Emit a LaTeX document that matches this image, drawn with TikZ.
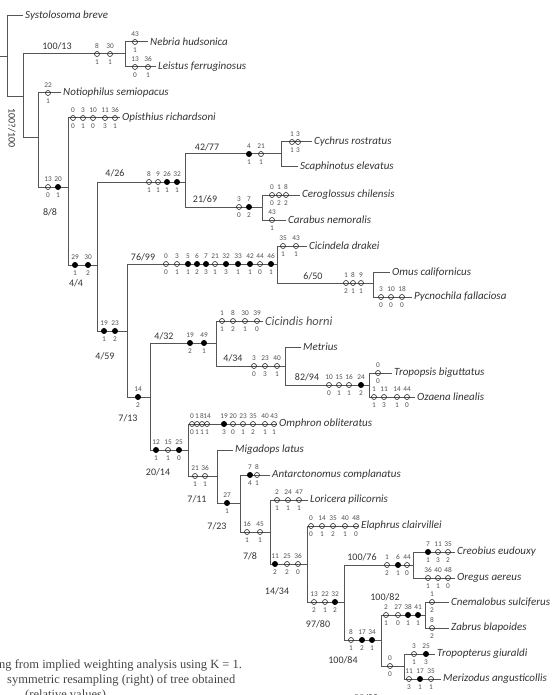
\documentclass[tikz,border=0pt]{standalone}
\usepackage{fontspec}
\setmainfont{Carlito}
\newfontfamily\capfont{Liberation Serif}
\usetikzlibrary{positioning}

\definecolor{linegray}{HTML}{555555}
\definecolor{txtgray}{HTML}{333333}
\definecolor{numgray}{HTML}{505050}
\definecolor{capgray}{HTML}{444444}

\newcommand{\apos}[2]{%
  \foreach \cx/\ct/\cb/\cs in {#2}
    {\node[\cs] (c#1-\cx) at (\cx,#1) {};
     \node[num] (t#1-\cx) at (\cx,#1-7.5) {\ct};
     \node[num] (b#1-\cx) at (\cx,#1+7.8) {\cb};}}

\begin{document}
\begin{tikzpicture}[x=1pt, y=-1pt,
  branch/.style={draw=linegray, line width=1pt},
  taxon/.style={anchor=west, inner xsep=2pt, inner ysep=0pt, text=txtgray, font=\fontsize{11}{13}\selectfont\itshape},
  support/.style={inner sep=0pt, text=txtgray, font=\fontsize{10}{12}\selectfont},
  num/.style={inner sep=0pt, text=numgray, font=\fontsize{7.3}{8}\selectfont},
  homo/.style={circle, draw=black!85, line width=0.6pt, minimum size=5pt, inner sep=0pt},
  syna/.style={circle, fill=black, minimum size=6pt, inner sep=0pt},
  capline/.style={anchor=base west, inner sep=0pt, text=capgray, font=\capfont\fontsize{12.5}{15}\selectfont}]
\useasboundingbox (0,0) rectangle (558,695);
\clip (0,0) rectangle (558,695);

\node[taxon] (sys) at (23,16) {Systolosoma breve};
\node[taxon] (neb) at (148,42) {Nebria hudsonica};
\node[taxon] (lei) at (156,67) {Leistus ferruginosus};
\node[taxon] (not) at (61,93) {Notiophilus semiopacus};
\node[taxon] (opi) at (120,118) {Opisthius richardsoni};
\node[taxon] (cyc) at (312,142) {Cychrus rostratus};
\node[taxon] (sca) at (298,167) {Scaphinotus elevatus};
\node[taxon] (cer) at (300,195) {Ceroglossus chilensis};
\node[taxon] (cbs) at (286,220) {Carabus nemoralis};
\node[taxon] (cdr) at (307,246) {Cicindela drakei};
\node[taxon] (omu) at (390,272) {Omus californicus};
\node[taxon] (pyc) at (412,297) {Pycnochila fallaciosa};
\node[taxon, font=\fontsize{12.5}{14}\selectfont\itshape, text=numgray] (cdh) at (263,321) {Cicindis horni};
\node[taxon] (met) at (301,347) {Metrius};
\node[taxon] (tro) at (392,373) {Tropopsis biguttatus};
\node[taxon] (oza) at (415,397) {Ozaena linealis};
\node[taxon] (omp) at (277,424) {Omphron obliteratus};
\node[taxon] (mig) at (233,450) {Migadops latus};
\node[taxon] (ant) at (270,475) {Antarctonomus complanatus};
\node[taxon] (lor) at (308,500) {Loricera pilicornis};
\node[taxon] (ela) at (359,526) {Elaphrus clairvillei};
\node[taxon] (cre) at (455,552) {Creobius eudouxy};
\node[taxon] (ore) at (455,578) {Oregus aereus};
\node[taxon] (cne) at (449,602) {Cnemalobus sulciferus};
\node[taxon] (zab) at (449,628) {Zabrus blapoides};
\node[taxon] (trp) at (435,654) {Tropopterus giuraldi};
\node[taxon] (mer) at (441,679) {Merizodus angusticollis};

\coordinate (base) at (0,57);
\coordinate (root) at (7,57);
\coordinate (inA) at (23,97);
\coordinate (nebA) at (125,54);
\coordinate (inB) at (38,138);
\coordinate (inC) at (68,187);
\coordinate (inD) at (97,265);
\coordinate (carA) at (185,182);
\coordinate (cycA) at (281,154);
\coordinate (cerA) at (262,207);
\coordinate (inE) at (127,331);
\coordinate (cicA) at (277,264);
\coordinate (omuA) at (373,283);
\coordinate (inF) at (150,397);
\coordinate (cndA) at (216,343);
\coordinate (metA) at (285,366);
\coordinate (ozaA) at (369,385);
\coordinate (inG) at (188,450);
\coordinate (inH) at (217,476);
\coordinate (inI) at (240,503);
\coordinate (inJ) at (270,532);
\coordinate (inK) at (307,564);
\coordinate (inL) at (344,602);
\coordinate (broA) at (413,565);
\coordinate (inM) at (381,640);
\coordinate (cneA) at (425,615);
\coordinate (merA) at (404,666);

\draw[branch] (base) -- (root);
\draw[branch] (root) |- (sys.west);
\draw[branch] (root) |- (inA);
\draw[branch] (inA) |- (nebA);
\draw[branch] (nebA) |- (neb.west);
\draw[branch] (nebA) |- (lei.west);
\draw[branch] (inA) |- (inB);
\draw[branch] (inB) |- (not.west);
\draw[branch] (inB) |- (inC);
\draw[branch] (inC) |- (opi.west);
\draw[branch] (inC) |- (inD);
\draw[branch] (inD) |- (carA);
\draw[branch] (inD) |- (inE);
\draw[branch] (carA) |- (cycA);
\draw[branch] (carA) |- (cerA);
\draw[branch] (cycA) |- (cyc.west);
\draw[branch] (cycA) |- (sca.west);
\draw[branch] (cerA) |- (cer.west);
\draw[branch] (cerA) |- (cbs.west);
\draw[branch] (inE) |- (cicA);
\draw[branch] (inE) |- (inF);
\draw[branch] (cicA) |- (cdr.west);
\draw[branch] (cicA) |- (omuA);
\draw[branch] (omuA) |- (omu.west);
\draw[branch] (omuA) |- (pyc.west);
\draw[branch] (inF) |- (cndA);
\draw[branch] (inF) |- (inG);
\draw[branch] (cndA) |- (cdh.west);
\draw[branch] (cndA) |- (metA);
\draw[branch] (metA) |- (met.west);
\draw[branch] (metA) |- (ozaA);
\draw[branch] (ozaA) |- (tro.west);
\draw[branch] (ozaA) |- (oza.west);
\draw[branch] (inG) |- (omp.west);
\draw[branch] (inG) |- (inH);
\draw[branch] (inH) |- (mig.west);
\draw[branch] (inH) |- (inI);
\draw[branch] (inI) |- (ant.west);
\draw[branch] (inI) |- (inJ);
\draw[branch] (inJ) |- (lor.west);
\draw[branch] (inJ) |- (inK);
\draw[branch] (inK) |- (ela.west);
\draw[branch] (inK) |- (inL);
\draw[branch] (inL) |- (broA);
\draw[branch] (inL) |- (inM);
\draw[branch] (broA) |- (cre.west);
\draw[branch] (broA) |- (ore.west);
\draw[branch] (inM) |- (cneA);
\draw[branch] (inM) |- (merA);
\draw[branch] (cneA) |- (cne.west);
\draw[branch] (cneA) |- (zab.west);
\draw[branch] (merA) |- (trp.west);
\draw[branch] (merA) |- (mer.west);

\apos{54}{97/8/1/homo, 110/30/1/homo}
\apos{42}{135/43/1/homo}
\apos{67}{135/13/0/homo, 148/36/1/homo}
\apos{93}{48/22/1/homo}
\apos{187}{48/13/0/homo, 58/20/1/syna}
\apos{118}{73/0/0/homo, 83/3/1/homo, 93/10/0/homo, 105/11/3/homo, 115/36/1/homo}
\apos{265}{75/29/1/syna, 88/30/2/syna}
\apos{182}{149/8/1/homo, 158/9/1/homo, 167/26/1/syna, 177/32/1/syna}
\apos{154}{249/4/1/syna, 261/21/1/homo}
\apos{142}{292/1/1/homo, 298/3/3/homo}
\apos{207}{239/3/0/homo, 249/7/2/syna}
\apos{195}{272/0/0/homo, 279/1/2/homo, 286/8/2/homo}
\apos{220}{272/43/1/homo}
\apos{331}{104/19/1/syna, 115/23/2/syna}
\apos{264}{166/0/0/homo, 177/3/1/homo, 188/5/1/syna, 197/6/2/syna, 206/7/3/syna, 215/21/1/homo, 226/32/3/syna, 238/33/1/syna, 250/42/1/syna, 260/44/0/homo, 271/46/1/syna}
\apos{246}{283/35/1/homo, 296/43/1/homo}
\apos{283}{346/1/2/homo, 353/8/1/homo, 361/9/1/homo}
\apos{297}{381/3/0/homo, 391/10/0/homo, 402/18/0/homo}
\apos{397}{138/14/2/syna}
\apos{343}{190/19/2/syna, 204/49/1/syna}
\apos{321}{222/1/1/homo, 233/8/2/homo, 245/30/1/homo, 257/39/0/homo}
\apos{366}{254/3/0/homo, 265/23/3/homo, 277/40/1/homo}
\apos{385}{329/10/0/homo, 339/15/1/homo, 349/16/1/homo, 361/24/2/syna}
\apos{373}{378/0/0/homo}
\apos{397}{374/1/1/homo, 384/11/3/homo, 397/14/1/homo, 407/44/0/homo}
\apos{450}{156/12/1/syna, 168/15/1/homo, 179/25/0/syna}
\apos{424}{192/0/0/homo, 197/1/1/homo, 202/8/1/homo, 207/14/1/homo, 224/19/3/syna, 233/20/0/homo, 243/23/1/homo, 253/35/2/homo, 265/40/1/homo, 274/43/1/homo}
\apos{476}{195/21/1/homo, 205/36/1/homo}
\apos{503}{227/27/1/syna}
\apos{475}{250/7/4/syna, 257/8/1/homo}
\apos{532}{247/16/1/homo, 260/45/1/homo}
\apos{500}{277/2/1/homo, 288/24/1/homo, 299/47/1/homo}
\apos{564}{275/11/2/syna, 287/25/2/homo, 298/36/0/homo}
\apos{526}{311/0/0/homo, 322/14/1/homo, 333/35/2/homo, 345/40/1/homo, 356/48/0/homo}
\apos{602}{314/13/2/homo, 325/22/1/homo, 335/32/2/syna}
\apos{565}{387/1/2/homo, 398/6/1/syna, 407/44/0/homo}
\apos{552}{428/7/1/syna, 438/11/3/homo, 448/35/2/homo}
\apos{578}{428/36/1/homo, 438/40/1/homo, 448/48/0/homo}
\apos{640}{351/8/1/homo, 362/17/2/syna, 372/34/1/syna}
\apos{615}{386/2/1/homo, 398/27/0/homo, 408/38/1/syna, 418/41/1/syna}
\apos{602}{432/1/2/homo}
\apos{628}{432/8/2/homo}
\apos{666}{390/0/0/homo}
\apos{654}{414/3/1/homo, 426/25/3/syna}
\apos{679}{409/11/3/homo, 420/17/1/syna, 431/35/1/homo}

\node[support, rotate=-90] (s0) at (12,128) {100?/100};
\node[support] (s1) at (57,46) {100/13};
\node[support] (s2) at (50,212) {8/8};
\node[support] (s3) at (76,283) {4/4};
\node[support] (s4) at (115,173) {4/26};
\node[support] (s5) at (207,147) {42/77};
\node[support] (s6) at (205,199) {21/69};
\node[support] (s7) at (143,257) {76/99};
\node[support] (s8) at (105,356) {4/59};
\node[support] (s9) at (313,276) {6/50};
\node[support] (s10) at (164,336) {4/32};
\node[support] (s11) at (233,358) {4/34};
\node[support] (s12) at (307,377) {82/94};
\node[support] (s13) at (128,418) {7/13};
\node[support] (s14) at (158,472) {20/14};
\node[support] (s15) at (197,499) {7/11};
\node[support] (s16) at (217,526) {7/23};
\node[support] (s17) at (250,556) {7/8};
\node[support] (s18) at (277,591) {14/34};
\node[support] (s19) at (318,624) {97/80};
\node[support] (s20) at (362,557) {100/76};
\node[support] (s21) at (385,597) {100/82};
\node[support] (s22) at (343,660) {100/84};
\node[support] (s23) at (366,698) {55/88};

\node[capline] (cap1) at (-1,668) {ng from implied weighting analysis using K = 1.};
\node[capline] (cap2) at (7,683) {symmetric resampling (right) of tree obtained};
\node[capline] (cap3) at (25,698) {(relative values)};
\end{tikzpicture}
\end{document}
